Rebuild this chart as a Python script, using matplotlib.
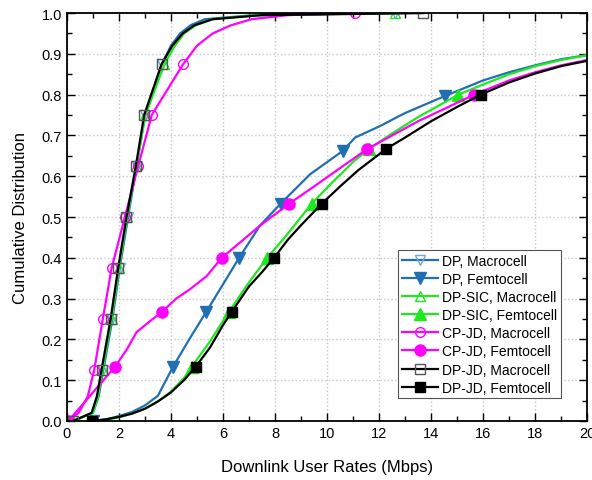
import numpy as np
import matplotlib.pyplot as plt
from matplotlib.ticker import MultipleLocator

plt.rcParams['font.family'] = ['Liberation Sans', 'DejaVu Sans']

# macrocell CDFs: shared y levels, x per scheme
macro_y = [0, 0.02, 0.06, 0.125, 0.25, 0.375, 0.5, 0.625, 0.75, 0.875, 0.92, 0.95, 0.97, 0.985, 0.995, 1.0]
macro_marks = [0, 3, 4, 5, 6, 7, 8, 9, 15]
dp_macro_x = [0.25, 1.0, 1.22, 1.40, 1.75, 2.03, 2.35, 2.68, 3.0, 3.65, 4.0, 4.35, 4.75, 5.3, 7.2, 12.6]
sic_macro_x = [0.25, 1.0, 1.2, 1.37, 1.72, 2.0, 2.32, 2.67, 3.02, 3.75, 4.15, 4.5, 4.95, 5.6, 7.3, 12.6]
cpjd_macro_x = [0.05, 0.45, 0.8, 1.05, 1.38, 1.72, 2.23, 2.74, 3.26, 4.47, 5.0, 5.6, 6.3, 7.1, 8.5, 11.08]
dpjd_macro_x = [0.24, 0.95, 1.15, 1.33, 1.68, 1.97, 2.29, 2.65, 2.97, 3.64, 4.05, 4.45, 4.9, 5.6, 7.5, 13.7]

# femtocell CDFs
dp_femto_x = [1.0, 1.5, 2, 2.5, 3, 3.5, 4.08, 4.7, 5.35, 6.0, 6.62, 7.42, 8.22, 9.35, 10.6, 11.08,
              12, 13, 14.54, 16, 17, 18, 19, 20]
dp_femto_y = [0, 0.004, 0.012, 0.022, 0.038, 0.062, 0.133, 0.2, 0.267, 0.335, 0.4, 0.479, 0.533, 0.605,
              0.662, 0.695, 0.722, 0.755, 0.797, 0.835, 0.855, 0.872, 0.887, 0.897]
dp_femto_marks = [0, 6, 8, 10, 12, 14, 18]

sic_femto_x = [1.05, 1.5, 2, 2.5, 3, 3.5, 4, 4.5, 4.8, 5.5, 6.0, 6.22, 7.0, 7.7, 8.5, 9.41, 10.2, 11.0,
               11.6, 12.5, 13.5, 15.04, 16, 17, 18, 19, 20]
sic_femto_y = [0, 0.003, 0.009, 0.018, 0.03, 0.048, 0.072, 0.105, 0.133, 0.195, 0.245, 0.267, 0.34, 0.4,
               0.46, 0.533, 0.585, 0.635, 0.667, 0.705, 0.745, 0.8, 0.825, 0.85, 0.87, 0.885, 0.897]
sic_femto_marks = [0, 8, 11, 13, 15, 18, 21]

cpjd_femto_x = [0.05, 0.6, 1.2, 1.85, 2.3, 2.68, 3.2, 3.65, 4.2, 4.73, 5.37, 5.95, 6.7, 7.42, 8.55, 9.5,
                10.5, 11.55, 12.5, 13.5, 14.5, 15.65, 17, 18, 19, 20]
cpjd_femto_y = [0, 0.04, 0.085, 0.133, 0.175, 0.218, 0.245, 0.267, 0.3, 0.323, 0.355, 0.4, 0.44, 0.479,
                0.533, 0.575, 0.62, 0.667, 0.7, 0.735, 0.765, 0.8, 0.835, 0.855, 0.872, 0.885]
cpjd_femto_marks = [0, 3, 7, 11, 14, 17, 21]

dpjd_femto_x = [0.96, 1.5, 2, 2.5, 3, 3.5, 4, 4.5, 4.95, 5.5, 6.0, 6.33, 7.0, 7.5, 7.96, 8.5, 9.0, 9.8,
                10.5, 11.2, 12.27, 13, 14, 15, 15.9, 17, 18, 19, 20]
dpjd_femto_y = [0, 0.004, 0.01, 0.018, 0.03, 0.048, 0.07, 0.1, 0.133, 0.18, 0.235, 0.267, 0.33, 0.365,
                0.4, 0.445, 0.48, 0.533, 0.575, 0.615, 0.667, 0.695, 0.735, 0.77, 0.8, 0.83, 0.852, 0.87, 0.883]
dpjd_femto_marks = [0, 8, 11, 14, 17, 20, 24]

blue = '#1f6fb2'
green = '#1ee81e'
pink = '#ff00ff'
black = '#000000'

fig = plt.figure(figsize=(5.92, 4.81), dpi=100)
ax = fig.add_axes([0.113, 0.1227, 0.879, 0.848])

ms = 7
lw = 1.6
ax.plot(dp_macro_x, macro_y, color=blue, lw=lw, marker='v', mfc='none', mec='#6fa8dc', ms=ms,
        markevery=macro_marks, label='DP, Macrocell')
ax.plot(dp_femto_x, dp_femto_y, color=blue, lw=lw, marker='v', mfc=blue, mec=blue, ms=ms + 2,
        markevery=dp_femto_marks, label='DP, Femtocell')
ax.plot(sic_macro_x, macro_y, color=green, lw=lw, marker='^', mfc='none', mec=green, ms=ms,
        markevery=macro_marks, label='DP-SIC, Macrocell')
ax.plot(sic_femto_x, sic_femto_y, color=green, lw=lw, marker='^', mfc=green, mec=green, ms=ms + 2,
        markevery=sic_femto_marks, label='DP-SIC, Femtocell')
ax.plot(cpjd_macro_x, macro_y, color=pink, lw=lw, marker='o', mfc='none', mec=pink, ms=ms,
        markevery=macro_marks, label='CP-JD, Macrocell')
ax.plot(cpjd_femto_x, cpjd_femto_y, color=pink, lw=lw, marker='o', mfc=pink, mec=pink, ms=ms + 1,
        markevery=cpjd_femto_marks, label='CP-JD, Femtocell')
ax.plot(dpjd_macro_x, macro_y, color=black, lw=lw, marker='s', mfc='none', mec='#555555', ms=ms,
        markevery=macro_marks, label='DP-JD, Macrocell')
ax.plot(dpjd_femto_x, dpjd_femto_y, color=black, lw=lw, marker='s', mfc=black, mec=black, ms=ms,
        markevery=dpjd_femto_marks, label='DP-JD, Femtocell')

ax.set_xlim(0, 20)
ax.set_ylim(0, 1.0)
ax.xaxis.set_major_locator(MultipleLocator(2))
ax.xaxis.set_minor_locator(MultipleLocator(1))
ax.yaxis.set_major_locator(MultipleLocator(0.1))
ax.yaxis.set_minor_locator(MultipleLocator(0.05))
ax.yaxis.set_major_formatter(plt.FormatStrFormatter('%.1f'))
ax.tick_params(which='both', direction='in', top=True, right=True, labelsize=10.5)
ax.tick_params(which='major', length=6, width=1)
ax.tick_params(which='minor', length=3.5, width=1)
ax.grid(True, which='major', color='#c8c8c8', linestyle=':', linewidth=1)
for s in ax.spines.values():
    s.set_linewidth(1.3)

ax.set_xlabel('Downlink User Rates (Mbps)', fontsize=12, labelpad=14)
ax.set_ylabel('Cumulative Distribution', fontsize=12, labelpad=10)

leg = ax.legend(loc='lower left', bbox_to_anchor=(0.637, 0.056), fontsize=10, handlelength=2.6,
                borderpad=0.25, labelspacing=0.3, handletextpad=0.3, borderaxespad=0,
                fancybox=False, framealpha=1, edgecolor='#555555')
leg.get_frame().set_linewidth(0.8)

fig.savefig('out.png', dpi=100)
